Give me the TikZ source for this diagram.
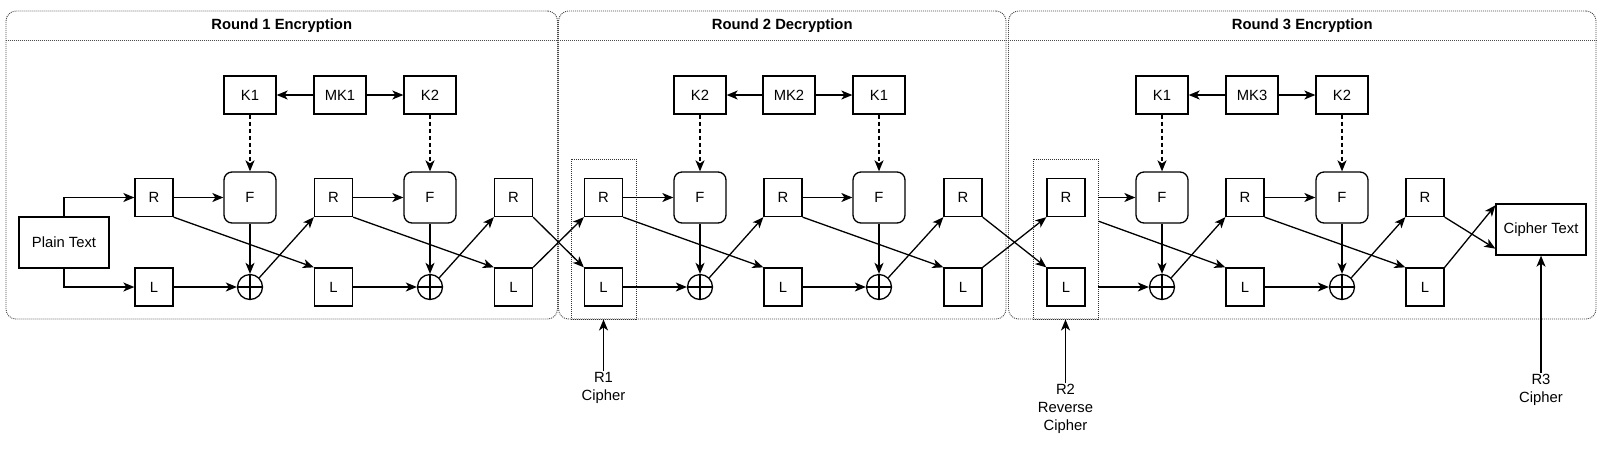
\documentclass[tikz,border=0pt]{standalone}
\usepackage{fontspec}
\setmainfont{Liberation Sans}
\usetikzlibrary{arrows.meta}
\usetikzlibrary{positioning}
\tikzstyle{blk} = [rectangle, draw, line width=1.3pt, minimum width=38pt, minimum height=38pt, inner sep=0pt]
\tikzstyle{keybox} = [blk, minimum width=52pt]
\tikzstyle{fbox} = [blk, minimum width=52pt, minimum height=51pt, rounded corners=8pt]
\tikzstyle{txtbox} = [blk, minimum width=90pt, minimum height=51pt]
\tikzstyle{xorc} = [circle, draw, line width=1.3pt, minimum size=25pt, inner sep=0pt,
  path picture={\draw[line width=1.1pt] (path picture bounding box.north) -- (path picture bounding box.south)
    (path picture bounding box.west) -- (path picture bounding box.east);}]
\tikzstyle{arrow} = [line width=1.3pt, -{Stealth[length=11pt, width=9pt, inset=3pt]}]
\tikzstyle{keyarrow} = [arrow, dash pattern=on 4pt off 3pt]
\tikzstyle{roundbox} = [rectangle, draw=black!70, line width=0.9pt, dash pattern=on 1pt off 1pt,
  rounded corners=10pt, minimum height=308pt, inner sep=0pt]
\tikzstyle{grp} = [rectangle, draw=black!80, line width=0.9pt, dash pattern=on 1pt off 1pt,
  minimum width=65pt, minimum height=160pt, inner sep=0pt]
\tikzstyle{divider} = [draw=black!70, line width=0.9pt, dash pattern=on 1pt off 1pt]

\begin{document}
\begin{tikzpicture}[x=1pt, y=-1pt, font=\fontsize{14.8}{18}\selectfont]
  \useasboundingbox (0,0) rectangle (1597,451);

  \node (rnd1) [roundbox, minimum width=551.5pt] at (281.75,165) {};
  \node (rnd2) [roundbox, minimum width=447.5pt] at (782.25,165) {};
  \node (rnd3) [roundbox, minimum width=587.5pt] at (1302.25,165) {};
  \draw[divider] (rnd1.west |- 0,40.7) -- (rnd1.east |- 0,40.7);
  \draw[divider] (rnd2.west |- 0,40.7) -- (rnd2.east |- 0,40.7);
  \draw[divider] (rnd3.west |- 0,40.7) -- (rnd3.east |- 0,40.7);
  \node (t1) [font=\fontsize{14.8}{18}\selectfont\bfseries] at (281.75,26) {Round 1 Encryption};
  \node (t2) [font=\fontsize{14.8}{18}\selectfont\bfseries] at (782.25,26) {Round 2 Decryption};
  \node (t3) [font=\fontsize{14.8}{18}\selectfont\bfseries] at (1302.25,26) {Round 3 Encryption};

  % round 1
  \node (pt) [txtbox] at (64,242.5) {Plain Text};
  \node (r11) [blk] at (154,197.5) {R};
  \node (l11) [blk] at (154,287) {L};
  \node (k11) [keybox] at (250,95) {K1};
  \node (mk1) [keybox] at (340,95) {MK1};
  \node (k12) [keybox] at (430,95) {K2};
  \node (f11) [fbox] at (250,197.5) {F};
  \node (x11) [xorc] at (250,287) {};
  \node (r12) [blk] at (333.5,197.5) {R};
  \node (l12) [blk] at (333.5,287) {L};
  \node (f12) [fbox] at (430,197.5) {F};
  \node (x12) [xorc] at (430,287) {};
  \node (r13) [blk] at (513.5,197.5) {R};
  \node (l13) [blk] at (513.5,287) {L};

  % round 2
  \node (g2) [grp] at (603.5,239) {};
  \node (r21) [blk] at (603.5,197.5) {R};
  \node (l21) [blk] at (603.5,287) {L};
  \node (k21) [keybox] at (700,95) {K2};
  \node (mk2) [keybox] at (789,95) {MK2};
  \node (k22) [keybox] at (879,95) {K1};
  \node (f21) [fbox] at (700,197.5) {F};
  \node (x21) [xorc] at (700,287) {};
  \node (r22) [blk] at (783,197.5) {R};
  \node (l22) [blk] at (783,287) {L};
  \node (f22) [fbox] at (879,197.5) {F};
  \node (x22) [xorc] at (879,287) {};
  \node (r23) [blk] at (963,197.5) {R};
  \node (l23) [blk] at (963,287) {L};

  % round 3
  \node (g3) [grp] at (1065.5,239) {};
  \node (r31) [blk] at (1066,197.5) {R};
  \node (l31) [blk] at (1066,287) {L};
  \node (k31) [keybox] at (1162,95) {K1};
  \node (mk3) [keybox] at (1252,95) {MK3};
  \node (k32) [keybox] at (1342,95) {K2};
  \node (f31) [fbox] at (1162,197.5) {F};
  \node (x31) [xorc] at (1162,287) {};
  \node (r32) [blk] at (1245,197.5) {R};
  \node (l32) [blk] at (1245,287) {L};
  \node (f32) [fbox] at (1342,197.5) {F};
  \node (x32) [xorc] at (1342,287) {};
  \node (r33) [blk] at (1425,197.5) {R};
  \node (l33) [blk] at (1425,287) {L};
  \node (ct) [txtbox] at (1541,229.5) {Cipher Text};

  \node (lab1) [align=center, inner sep=1pt, below=52pt of g2.south] {R1\\Cipher};
  \node (lab2) [align=center, inner sep=1pt, below=64pt of g3.south] {R2\\Reverse\\Cipher};
  \node (lab3) [align=center, inner sep=1pt] at (1541,390) {R3\\Cipher};

  \coordinate (g3a) at (g3.east |- r31);
  \coordinate (g3b) at ([yshift=-4pt]g3.east |- r31.south);
  \coordinate (g3c) at (g3.east |- l31);
  \coordinate (ct1) at ([yshift=7pt]ct.south west);
  \coordinate (ct2) at ([yshift=-2pt]ct.north west);

  \draw[arrow] (pt.north) |- (r11);
  \draw[arrow] (pt.south) |- (l11);
  \draw[arrow] (mk1) -- (k11);
  \draw[arrow] (mk1) -- (k12);
  \draw[keyarrow] (k11) -- (f11);
  \draw[keyarrow] (k12) -- (f12);
  \draw[arrow] (r11) -- (f11);
  \draw[arrow] (f11) -- (x11);
  \draw[arrow] (l11) -- (x11);
  \draw[arrow] (r11.south east) -- (l12.north west);
  \draw[arrow] (x11.north east) -- (r12.south west);
  \draw[arrow] (r12) -- (f12);
  \draw[arrow] (f12) -- (x12);
  \draw[arrow] (l12) -- (x12);
  \draw[arrow] (r12.south east) -- (l13.north west);
  \draw[arrow] (x12.north east) -- (r13.south west);

  \draw[arrow] (r13.south east) -- (l21.north west);
  \draw[arrow] (l13.north east) -- (r21.south west);

  \draw[arrow] (mk2) -- (k21);
  \draw[arrow] (mk2) -- (k22);
  \draw[keyarrow] (k21) -- (f21);
  \draw[keyarrow] (k22) -- (f22);
  \draw[arrow] (r21) -- (f21);
  \draw[arrow] (f21) -- (x21);
  \draw[arrow] (l21) -- (x21);
  \draw[arrow] (r21.south east) -- (l22.north west);
  \draw[arrow] (x21.north east) -- (r22.south west);
  \draw[arrow] (r22) -- (f22);
  \draw[arrow] (f22) -- (x22);
  \draw[arrow] (l22) -- (x22);
  \draw[arrow] (r22.south east) -- (l23.north west);
  \draw[arrow] (x22.north east) -- (r23.south west);

  \draw[arrow] (r23.south east) -- (l31.north west);
  \draw[arrow] (l23.north east) -- (r31.south west);

  \draw[arrow] (mk3) -- (k31);
  \draw[arrow] (mk3) -- (k32);
  \draw[keyarrow] (k31) -- (f31);
  \draw[keyarrow] (k32) -- (f32);
  \draw[arrow] (g3a) -- (f31);
  \draw[arrow] (f31) -- (x31);
  \draw[arrow] (g3c) -- (x31);
  \draw[arrow] (g3b) -- (l32.north west);
  \draw[arrow] (x31.north east) -- (r32.south west);
  \draw[arrow] (r32) -- (f32);
  \draw[arrow] (f32) -- (x32);
  \draw[arrow] (l32) -- (x32);
  \draw[arrow] (r32.south east) -- (l33.north west);
  \draw[arrow] (x32.north east) -- (r33.south west);
  \draw[arrow] (r33.south east) -- (ct1);
  \draw[arrow] (l33.north east) -- (ct2);

  \draw[arrow] (lab1) -- (g2);
  \draw[arrow] (lab2) -- (g3);
  \draw[arrow] (lab3) -- (ct);
\end{tikzpicture}
\end{document}
